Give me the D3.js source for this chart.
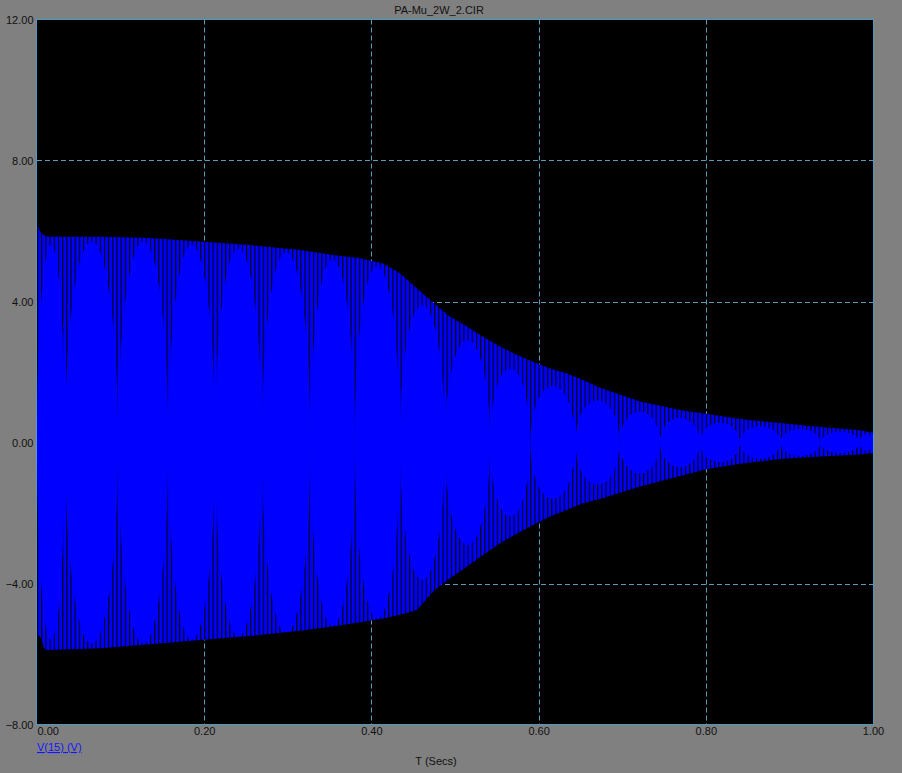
<!DOCTYPE html>
<html><head><meta charset="utf-8">
<script src="https://cdn.jsdelivr.net/npm/d3@7"></script>
<style>html,body{margin:0;padding:0;background:#808080;}svg{display:block}</style>
</head><body><svg id="c" width="902" height="773"></svg>
<script>
const title = "PA-Mu_2W_2.CIR";
const xLabel = "T (Secs)";
const yLabel = "V(15) (V)";
const xTicks = [0, 0.2, 0.4, 0.6, 0.8, 1.0];
const yTicks = [12, 8, 4, 0, -4, -8];
// envelope of V(15)
const envT     = [0, 0.0036, 0.0096, 0.0156, 0.0754, 0.1352, 0.195, 0.2548, 0.3146, 0.354, 0.3864, 0.414, 0.4342, 0.4545, 0.4749, 0.4940, 0.5144, 0.5335, 0.5538, 0.5742, 0.5933, 0.6136, 0.6340, 0.6531, 0.6734, 0.7213, 0.7691, 0.8014, 0.8409, 0.8888, 0.9366, 0.9844, 1.0];
const envUpper = [6.25, 5.98, 5.86, 5.84, 5.84, 5.80, 5.70, 5.60, 5.46, 5.32, 5.23, 5.08, 4.80, 4.37, 3.95, 3.57, 3.29, 3.00, 2.72, 2.48, 2.29, 2.10, 1.96, 1.77, 1.55, 1.16, 0.92, 0.81, 0.67, 0.55, 0.44, 0.35, 0.28];
const envLower = [-5.45, -5.51, -5.89, -5.89, -5.84, -5.72, -5.60, -5.49, -5.34, -5.22, -5.10, -4.99, -4.89, -4.75, -4.20, -3.85, -3.52, -3.19, -2.86, -2.58, -2.34, -2.10, -1.91, -1.72, -1.60, -1.25, -0.95, -0.75, -0.60, -0.47, -0.40, -0.34, -0.30];
// beat nodes (times where the beat lobes pinch) and lobe half-heights
const beatNodes = [0, 0.0335, 0.097, 0.157, 0.213, 0.269, 0.327, 0.380, 0.434, 0.488, 0.542, 0.590, 0.644, 0.697, 0.745, 0.793, 0.841, 0.889, 0.937, 0.984, 1.0];
const lobeAmp   = [5.6, 5.7, 5.7, 5.6, 5.5, 5.4, 5.2, 5.0, 3.9, 2.9, 2.1, 1.6, 1.2, 0.88, 0.70, 0.56, 0.46, 0.38, 0.30, 0.24];

const svg = d3.select("#c");
const L = 37, R = 873, T = 19.5, B = 724.5;
const x = d3.scaleLinear().domain([0, 1]).range([L, R]);
const y = d3.scaleLinear().domain([-8, 12]).range([B, T]);
const gridCol = "#5b9cbc", borderCol = "#4a9cc4", blue = "#0000ff";

const defs = svg.append("defs");
const pat = defs.append("pattern").attr("id", "stripes").attr("patternUnits", "userSpaceOnUse")
  .attr("x", L).attr("y", 0).attr("width", 4.18).attr("height", 20);
pat.append("rect").attr("width", 4.18).attr("height", 20).attr("fill", blue);
pat.append("rect").attr("x", 0).attr("width", 1.1).attr("height", 20).attr("fill", "#000");
defs.append("clipPath").attr("id", "plotclip").append("rect")
  .attr("x", L).attr("y", T).attr("width", R - L).attr("height", B - T);

svg.append("rect").attr("x", L).attr("y", T).attr("width", R - L).attr("height", B - T).attr("fill", "#000");

// grid
const g = svg.append("g");
g.selectAll("line.vx").data(xTicks.slice(1, -1)).join("line")
  .attr("x1", d => Math.round(x(d)) + 0.5).attr("x2", d => Math.round(x(d)) + 0.5)
  .attr("y1", T).attr("y2", B).attr("stroke", gridCol).attr("stroke-dasharray", "5,3");
g.selectAll("line.hy").data(yTicks.slice(1, -1)).join("line")
  .attr("y1", d => Math.round(y(d)) + 0.5).attr("y2", d => Math.round(y(d)) + 0.5)
  .attr("x1", L).attr("x2", R).attr("stroke", gridCol).attr("stroke-dasharray", "5,3");

// signal
const env = envT.map((t, i) => ({ t, hi: envUpper[i], lo: envLower[i] }));
const sig = svg.append("g").attr("clip-path", "url(#plotclip)");
sig.append("path").datum(env)
  .attr("d", d3.area().x(d => x(d.t)).y0(d => y(d.lo)).y1(d => y(d.hi)))
  .attr("fill", "url(#stripes)");
defs.append("clipPath").attr("id", "envclip").append("path").datum(env)
  .attr("d", d3.area().x(d => x(d.t)).y0(d => y(d.lo)).y1(d => y(d.hi)));
const lobes = lobeAmp.map((a, i) => ({ a, t0: beatNodes[i], t1: beatNodes[i + 1] }));
sig.append("g").attr("clip-path", "url(#envclip)").selectAll("ellipse").data(lobes).join("ellipse")
  .attr("cx", d => (x(d.t0) + x(d.t1)) / 2).attr("cy", y(0))
  .attr("rx", d => (x(d.t1) - x(d.t0)) / 2).attr("ry", d => y(0) - y(d.a))
  .attr("fill", blue);

// border
svg.append("rect").attr("x", L - 0.5).attr("y", T).attr("width", R - L + 1).attr("height", B - T)
  .attr("fill", "none").attr("stroke", borderCol).attr("stroke-width", 1);

// axes
const font = "'Liberation Sans', Arial, sans-serif";
const ya = svg.append("g").attr("transform", `translate(${L - 0.5},0)`)
  .call(d3.axisLeft(y).tickValues(yTicks).tickFormat(d3.format(".2f")).tickSize(0).tickPadding(3));
ya.select(".domain").remove();
ya.selectAll("text").attr("font-family", font).attr("font-size", 11).attr("fill", "#111");
const xa = svg.append("g").attr("transform", `translate(0,${B})`)
  .call(d3.axisBottom(x).tickValues(xTicks).tickFormat(d3.format(".2f")).tickSize(0).tickPadding(3));
xa.select(".domain").remove();
xa.selectAll("text").attr("font-family", font).attr("font-size", 11).attr("fill", "#111")
  .attr("text-anchor", (d, i) => i === 0 ? "start" : "middle");

svg.append("text").attr("x", 439).attr("y", 14).attr("text-anchor", "middle")
  .attr("font-family", font).attr("font-size", 11).attr("fill", "#111").text(title);
svg.append("text").attr("x", 436).attr("y", 765).attr("text-anchor", "middle")
  .attr("font-family", font).attr("font-size", 11).attr("fill", "#111").text(xLabel);
svg.append("text").attr("x", L).attr("y", 751)
  .attr("font-family", font).attr("font-size", 11).attr("fill", "#1515ff")
  .attr("text-decoration", "underline").text(yLabel);
</script></body></html>
